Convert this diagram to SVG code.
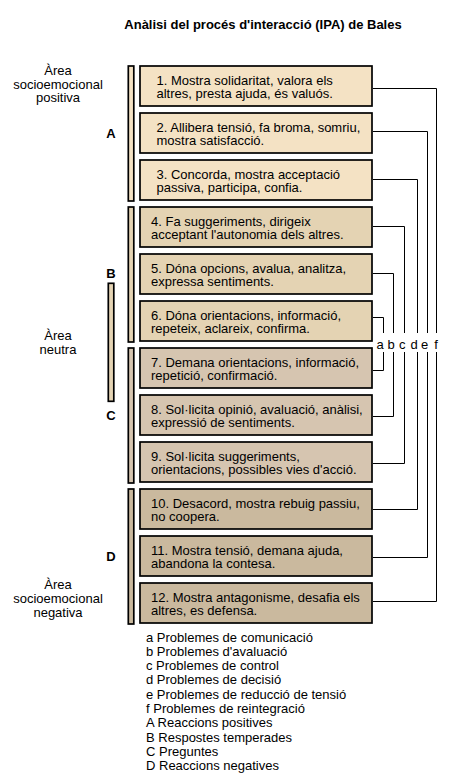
<svg xmlns="http://www.w3.org/2000/svg" width="452" height="784" viewBox="0 0 452 784">
<style>
text{font-family:"Liberation Sans",Arial,sans-serif;font-size:13px;fill:#000}
.b{font-weight:bold}
.m{text-anchor:middle}
.box{stroke:#000;stroke-width:1.7}
.c1{fill:#F4E2C4}.c2{fill:#E4D3B3}.c3{fill:#D6C5B0}.c4{fill:#CAB99E}
.ln{fill:none;stroke:#000;stroke-width:1}
</style>
<rect width="452" height="784" fill="#fff"/>
<text class="b m" x="263" y="28.5">Anàlisi del procés d'interacció (IPA) de Bales</text>

<g id="area-positiva"><text class="m" x="58" y="75">Àrea</text><text class="m" x="58" y="88.5">socioemocional</text><text class="m" x="58" y="102">positiva</text></g>
<g id="area-neutra"><text class="m" x="58" y="339.5">Àrea</text><text class="m" x="58" y="353.5">neutra</text><rect class="box c2" x="108.3" y="283.3" width="5.5" height="118"/></g>
<g id="area-negativa"><text class="m" x="58" y="589">Àrea</text><text class="m" x="58" y="603">socioemocional</text><text class="m" x="58" y="616.5">negativa</text></g>

<g id="group-A"><rect class="box c1" x="128.3" y="66" width="5.5" height="135"/><text class="b m" x="111" y="138">A</text></g>
<g id="group-B"><rect class="box c2" x="128.3" y="207" width="5.5" height="135"/><text class="b m" x="111" y="277.5">B</text></g>
<g id="group-C"><rect class="box c3" x="128.3" y="348" width="5.5" height="135"/><text class="b m" x="111" y="420">C</text></g>
<g id="group-D"><rect class="box c4" x="128.3" y="489" width="5.5" height="135"/><text class="b m" x="111" y="561">D</text></g>

<g id="n1"><rect class="box c1" x="140" y="66" width="232" height="40"/><text x="156.5" y="84.5">1. Mostra solidaritat, valora els</text><text x="156.5" y="98">altres, presta ajuda, és valuós.</text></g>
<g id="n2"><rect class="box c1" x="140" y="113" width="232" height="40"/><text x="156.5" y="131.5">2. Allibera tensió, fa broma, somriu,</text><text x="156.5" y="145">mostra satisfacció.</text></g>
<g id="n3"><rect class="box c1" x="140" y="160" width="232" height="40"/><text x="156.5" y="178.5">3. Concorda, mostra acceptació</text><text x="156.5" y="192">passiva, participa, confia.</text></g>
<g id="n4"><rect class="box c2" x="140" y="207" width="232" height="40"/><text x="151" y="225.5">4. Fa suggeriments, dirigeix</text><text x="151" y="239">acceptant l'autonomia dels altres.</text></g>
<g id="n5"><rect class="box c2" x="140" y="254" width="232" height="40"/><text x="151" y="272.5">5. Dóna opcions, avalua, analitza,</text><text x="151" y="286">expressa sentiments.</text></g>
<g id="n6"><rect class="box c2" x="140" y="301" width="232" height="40"/><text x="151" y="319.5">6. Dóna orientacions, informació,</text><text x="151" y="333">repeteix, aclareix, confirma.</text></g>
<g id="n7"><rect class="box c3" x="140" y="348" width="232" height="40"/><text x="151" y="366.5">7. Demana orientacions, informació,</text><text x="151" y="380">repetició, confirmació.</text></g>
<g id="n8"><rect class="box c3" x="140" y="395" width="232" height="40"/><text x="151" y="413.5">8. Sol·licita opinió, avaluació, anàlisi,</text><text x="151" y="427">expressió de sentiments.</text></g>
<g id="n9"><rect class="box c3" x="140" y="442" width="232" height="40"/><text x="151" y="460.5">9. Sol·licita suggeriments,</text><text x="151" y="474">orientacions, possibles vies d'acció.</text></g>
<g id="n10"><rect class="box c4" x="140" y="489" width="232" height="40"/><text x="151" y="507.5">10. Desacord, mostra rebuig passiu,</text><text x="151" y="521">no coopera.</text></g>
<g id="n11"><rect class="box c4" x="140" y="536" width="232" height="40"/><text x="151" y="554.5">11. Mostra tensió, demana ajuda,</text><text x="151" y="568">abandona la contesa.</text></g>
<g id="n12"><rect class="box c4" x="140" y="583" width="232" height="40"/><text x="151" y="601.5">12. Mostra antagonisme, desafia els</text><text x="151" y="615">altres, es defensa.</text></g>

<g id="connectors">
<polyline class="ln" points="373,88.5 436.5,88.5 436.5,333"/>
<polyline class="ln" points="373,131.5 427.5,131.5 427.5,333"/>
<polyline class="ln" points="373,179.5 417.5,179.5 417.5,333"/>
<polyline class="ln" points="373,226.5 404.5,226.5 404.5,333"/>
<polyline class="ln" points="373,273.5 393.5,273.5 393.5,333"/>
<polyline class="ln" points="373,317.5 383.5,317.5 383.5,333"/>
<polyline class="ln" points="373,370.5 383.5,370.5 383.5,352"/>
<polyline class="ln" points="373,416.5 393.5,416.5 393.5,352"/>
<polyline class="ln" points="373,463.5 404.5,463.5 404.5,352"/>
<polyline class="ln" points="373,509.5 417.5,509.5 417.5,352"/>
<polyline class="ln" points="373,557.5 427.5,557.5 427.5,352"/>
<polyline class="ln" points="373,601.5 436.5,601.5 436.5,352"/>
</g>
<g id="connector-labels"><text class="m" y="348.5"><tspan x="382">a</tspan> <tspan x="393">b</tspan> <tspan x="404">c</tspan> <tspan x="416">d</tspan> <tspan x="426.5">e</tspan> <tspan x="436">f</tspan></text></g>

<g id="legend">
<text x="146" y="641.5">a Problemes de comunicació</text>
<text x="146" y="655.8">b Problemes d'avaluació</text>
<text x="146" y="670.1">c Problemes de control</text>
<text x="146" y="684.4">d Problemes de decisió</text>
<text x="146" y="698.7">e Problemes de reducció de tensió</text>
<text x="146" y="713">f Problemes de reintegració</text>
<text x="146" y="727.3">A Reaccions positives</text>
<text x="146" y="741.6">B Respostes temperades</text>
<text x="146" y="755.9">C Preguntes</text>
<text x="146" y="770.2">D Reaccions negatives</text>
</g>
</svg>
